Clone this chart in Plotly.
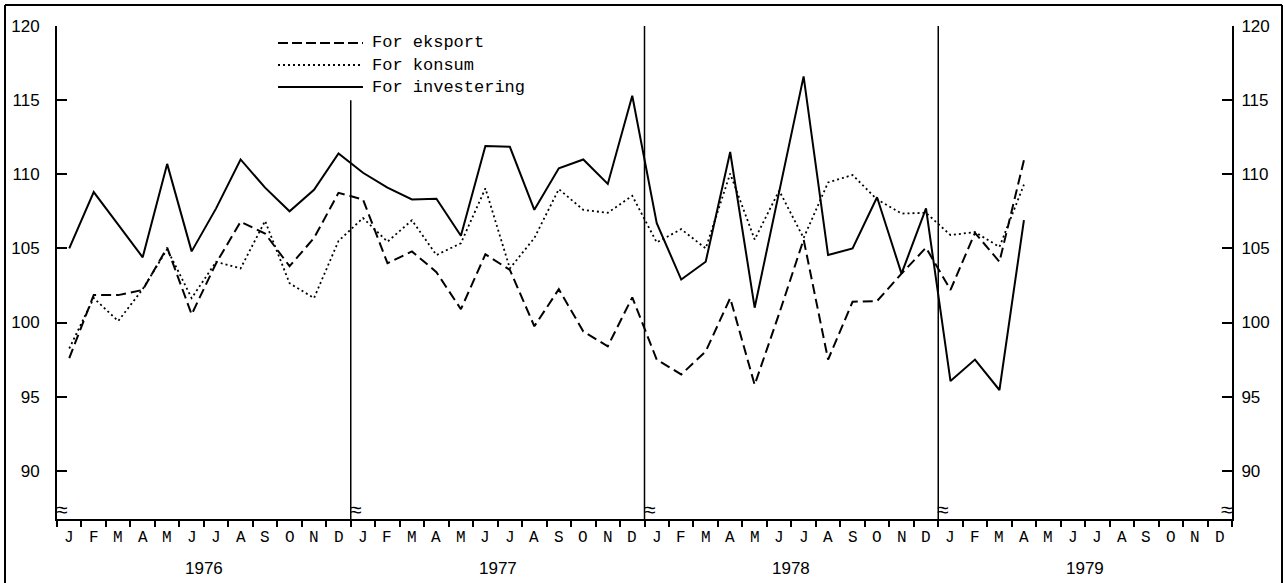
import plotly.graph_objects as go

# ---------------- data ----------------
years = ["1976", "1977", "1978", "1979"]
month_letters = ["J", "F", "M", "A", "M", "J", "J", "A", "S", "O", "N", "D"]

eksport = [97.6, 101.85, 101.85, 102.2, 105.05, 100.55, 104.0, 106.8, 106.0, 103.8, 105.7, 108.75,
           108.3, 104.0, 104.8, 103.4, 100.9, 104.6, 103.55, 99.75, 102.25, 99.4, 98.4, 101.7,
           97.5, 96.5, 98.05, 101.65, 95.8, 100.6, 105.6, 97.5, 101.4, 101.45, 103.3, 105.05,
           102.2, 106.05, 104.1, 110.95]

konsum = [98.25, 101.65, 100.1, 102.25, 104.95, 101.65, 104.1, 103.65, 106.85, 102.65, 101.65, 105.5,
          107.05, 105.45, 106.9, 104.55, 105.35, 109.05, 103.65, 105.7, 109.0, 107.6, 107.4, 108.55,
          105.4, 106.3, 105.0, 110.05, 105.6, 108.9, 105.7, 109.45, 109.95, 108.3, 107.35, 107.4,
          105.9, 106.1, 105.1, 109.3]

investering = [105.0, 108.8, 106.6, 104.4, 110.7, 104.8, 107.7, 111.0, 109.1, 107.5, 108.95, 111.4,
               110.1, 109.1, 108.3, 108.35, 105.85, 111.9, 111.85, 107.6, 110.4, 111.0, 109.35, 115.3,
               106.7, 102.9, 104.1, 111.5, 101.0, 108.9, 116.6, 104.55, 105.0, 108.45, 103.3, 107.7,
               96.05, 97.5, 95.45, 106.9]

series_names = ["For eksport", "For konsum", "For investering"]
y_ticks = [90, 95, 100, 105, 110, 115, 120]

# ---------------- geometry ----------------
W, H = 1285, 583
ML, MR, MT, MB = 57, 53, 26, 64
PW, PH = W - ML - MR, H - MT - MB
Y_MIN, Y_MAX = 86.75, 120
N_MONTHS = 12 * len(years)


def px(x):
    return (x - ML) / PW


def py(y):
    return (H - MB - y) / PH


x_pos = [i + 0.5 for i in range(len(investering))]

font_sans = "Liberation Sans, Arial, sans-serif"
font_mono = "Liberation Mono, DejaVu Sans Mono, monospace"

styles = [dict(dash="10px,5px", width=2), dict(dash="2px,3px", width=1.8), dict(dash="solid", width=2)]
legend_dash = ["10px,4px", "2px,3px", "solid"]
data = [eksport, konsum, investering]

fig = go.Figure()
for name, vals, st in zip(series_names, data, styles):
    fig.add_trace(go.Scatter(x=x_pos, y=vals, mode="lines", name=name,
                             line=dict(color="black", width=st["width"], dash=st["dash"]),
                             showlegend=False, hoverinfo="skip"))
# invisible trace so the right-hand axis is drawn
fig.add_trace(go.Scatter(x=x_pos, y=investering, yaxis="y2", mode="lines",
                         line=dict(color="rgba(0,0,0,0)"), showlegend=False, hoverinfo="skip"))

shapes = []
annotations = []

# year separators
for k in range(1, len(years)):
    top = 115 if k == 1 else 120
    shapes.append(dict(type="line", xref="x", yref="y", x0=12 * k, x1=12 * k, y0=Y_MIN, y1=top,
                       line=dict(color="black", width=1.5)))

# break symbols
for k in range(len(years)):
    annotations.append(dict(x=12 * k, y=py(509), xref="x", yref="paper", text="≈", showarrow=False,
                            xanchor="left", yanchor="middle", xshift=-3,
                            font=dict(family=font_sans, size=21, color="black")))
annotations.append(dict(x=N_MONTHS, y=py(509), xref="x", yref="paper", text="≈", showarrow=False,
                        xanchor="right", yanchor="middle", xshift=3,
                        font=dict(family=font_sans, size=21, color="black")))

# month letters
for k in range(N_MONTHS):
    annotations.append(dict(x=k + 0.5, y=py(538), xref="x", yref="paper", text=month_letters[k % 12],
                            showarrow=False, xanchor="center", yanchor="middle",
                            font=dict(family=font_mono, size=16, color="black")))
# year labels
for k, yr in enumerate(years):
    annotations.append(dict(x=12 * k + 6, y=py(568), xref="x", yref="paper", text=yr, showarrow=False,
                            xanchor="center", yanchor="middle",
                            font=dict(family=font_sans, size=17, color="black")))

# legend (drawn manually to match long line samples)
leg_y = [43, 65, 87]
for name, st, dsh, ly in zip(series_names, styles, legend_dash, leg_y):
    shapes.append(dict(type="line", xref="paper", yref="paper", x0=px(278), x1=px(363),
                       y0=py(ly), y1=py(ly), line=dict(color="black", width=st["width"], dash=dsh)))
    annotations.append(dict(x=px(370), y=py(ly), xref="paper", yref="paper", text=name, showarrow=False,
                            xanchor="left", yanchor="middle",
                            font=dict(family=font_mono, size=17, color="black")))

# outer frame (left, top, right edges)
frame = dict(color="black", width=2)
shapes.append(dict(type="line", xref="paper", yref="paper", x0=px(5), x1=px(5), y0=py(583), y1=py(5), line=frame))
shapes.append(dict(type="line", xref="paper", yref="paper", x0=px(5), x1=px(1282), y0=py(5), y1=py(5), line=frame))
shapes.append(dict(type="line", xref="paper", yref="paper", x0=px(1282), x1=px(1282), y0=py(583), y1=py(5), line=frame))

axis_common = dict(range=[Y_MIN, Y_MAX], tickmode="array", tickvals=y_ticks,
                   ticktext=[str(v) for v in y_ticks], ticks="inside", ticklen=10, tickwidth=1.5,
                   tickcolor="black", showline=True, linewidth=2, linecolor="black", showgrid=False,
                   zeroline=False, tickfont=dict(family=font_sans, size=17, color="black"))

fig.update_layout(
    width=W, height=H, margin=dict(l=ML, r=MR, t=MT, b=MB),
    paper_bgcolor="white", plot_bgcolor="white",
    xaxis=dict(range=[0, N_MONTHS], tickmode="array", tickvals=list(range(N_MONTHS + 1)),
               ticktext=["" for _ in range(N_MONTHS + 1)], ticks="outside", ticklen=6, tickwidth=1.5,
               tickcolor="black", showline=True, linewidth=2, linecolor="black", showgrid=False,
               zeroline=False),
    yaxis=dict(**axis_common, side="left", ticklabelstandoff=12),
    yaxis2=dict(**axis_common, side="right", overlaying="y", ticklabelstandoff=4),
    shapes=shapes, annotations=annotations, showlegend=False,
)

fig.write_html("out.html", config={"displayModeBar": False},
               post_script="document.body.style.margin='0';document.body.style.overflow='hidden';")
